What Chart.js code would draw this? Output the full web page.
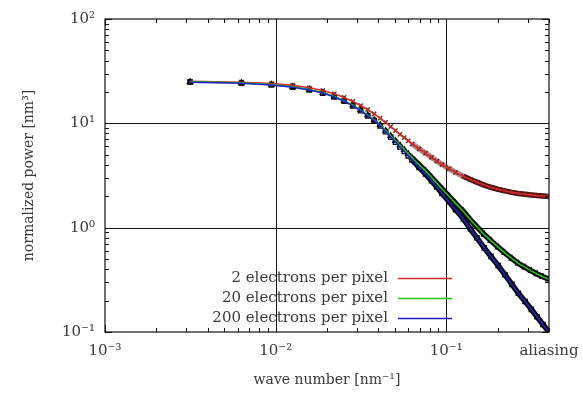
<!DOCTYPE html>
<html lang="en">
<head>
<meta charset="UTF-8">
<title>Normalized power spectrum</title>
<script src="https://cdn.jsdelivr.net/npm/chart.js"></script>
<style>
  body { margin: 0; background: #fff; }
</style>
</head>
<body>
<canvas id="powerChart" width="583" height="394"></canvas>
<script>
// wave numbers of the plotted samples [nm^-1]
const waveNumbers = [0.00315, 0.0063, 0.00945, 0.0126, 0.01575, 0.0189, 0.02205, 0.0252, 0.02835, 0.0315,
  0.03465, 0.0378, 0.04095, 0.0441, 0.04725, 0.0504, 0.05355, 0.0567, 0.05985, 0.063,
  0.0693, 0.0756, 0.0819, 0.0882, 0.0945, 0.10395, 0.1134, 0.126, 0.1386, 0.1512,
  0.16695, 0.1827, 0.2016, 0.2205, 0.24255, 0.2646, 0.2898, 0.315, 0.3402, 0.36855, 0.4];

// normalized power [nm^3]
const power2 = [25.3, 24.8, 24.0, 23.1, 21.9, 20.6, 19.2, 17.7, 16.2, 14.8,
  13.5, 12.3, 11.2, 10.2, 9.3, 8.5, 7.85, 7.3, 6.8, 6.36,
  5.68, 5.18, 4.72, 4.34, 4.03, 3.67, 3.39, 3.11, 2.9, 2.73,
  2.56, 2.44, 2.33, 2.25, 2.18, 2.13, 2.09, 2.06, 2.03, 2.01, 1.99];
const power20 = [25.0, 24.4, 23.5, 22.4, 21.1, 19.7, 18.1, 16.5, 14.9, 13.4,
  12.0, 10.8, 9.66, 8.52, 7.59, 6.81, 6.15, 5.59, 5.10, 4.68,
  4.00, 3.50, 3.04, 2.66, 2.35, 1.99, 1.71, 1.43, 1.19, 1.02,
  0.86, 0.75, 0.65, 0.574, 0.506, 0.455, 0.416, 0.385, 0.36, 0.338, 0.32];
const power200 = [24.8, 24.2, 23.3, 22.2, 20.9, 19.5, 17.9, 16.3, 14.7, 13.2,
  11.8, 10.6, 9.44, 8.30, 7.37, 6.59, 5.93, 5.37, 4.88, 4.46,
  3.78, 3.28, 2.82, 2.44, 2.13, 1.77, 1.49, 1.21, 0.97, 0.80,
  0.64, 0.53, 0.433, 0.354, 0.286, 0.235, 0.196, 0.165, 0.14, 0.118, 0.1];

const seriesLabels = ['2 electrons per pixel', '20 electrons per pixel', '200 electrons per pixel'];

const xTickValues = [0.001, 0.01, 0.1, 0.4];
const xTickLabels = ['10⁻³', '10⁻²', '10⁻¹', 'aliasing'];
const yTickValues = [0.1, 1, 10, 100];
const yTickLabels = ['10⁻¹', '10⁰', '10¹', '10²'];

const FONT = '"DejaVu Serif", "Liberation Serif", serif';
const TEXT = '#3a3a3a';
const lineColors = ['#d42a2a', '#1fc41f', '#2222c8'];
const bandColors = ['#4a1212', '#0a0a0a', '#0a0a0a'];
const markerStyles = ['crossRot', 'triangle', 'rect'];

const toPoints = arr => arr.map((v, i) => ({ x: waveNumbers[i], y: v }));
const allSeries = [power2, power20, power200];

// the dense markers merge into a band; the crosses of the red set look lighter
function bandColor(i, k) {
  if (k < 0.06) return 'rgba(0,0,0,0)';
  if (i === 0 && k < 0.12) return 'rgba(110,35,35,0.55)';
  return bandColors[i];
}

const datasets = [];
allSeries.forEach((vals, i) => {
  // colored curve on top
  datasets.push({
    label: seriesLabels[i],
    data: toPoints(vals),
    borderColor: lineColors[i],
    borderWidth: 1.6,
    pointRadius: 0,
    tension: 0,
    order: 3 - i
  });
  // black markers
  datasets.push({
    label: seriesLabels[i] + ' markers',
    data: toPoints(vals),
    borderColor: bandColors[i],
    borderWidth: 5.5,
    segment: {
      borderColor: ctx => bandColor(i, ctx.p0.parsed.x)
    },
    pointStyle: markerStyles[i],
    pointRadius: 3,
    pointBorderWidth: 1.4,
    pointBorderColor: i === 0 ? '#6a2020' : bandColors[i],
    pointBackgroundColor: 'rgba(0,0,0,0)',
    tension: 0,
    order: 6 - i
  });
});

// frame, decade grid lines and inward ticks like the gnuplot original
const framePlugin = {
  id: 'frame',
  beforeDatasetsDraw(chart) {
    const { ctx, chartArea: a, scales: { x, y } } = chart;
    ctx.save();
    ctx.strokeStyle = '#111';
    ctx.lineWidth = 1;
    ctx.beginPath();
    [0.01, 0.1].forEach(v => {
      const px = Math.round(x.getPixelForValue(v)) + 0.5;
      ctx.moveTo(px, a.top); ctx.lineTo(px, a.bottom);
    });
    [1, 10].forEach(v => {
      const py = Math.round(y.getPixelForValue(v)) + 0.5;
      ctx.moveTo(a.left, py); ctx.lineTo(a.right, py);
    });
    ctx.stroke();
    ctx.restore();
  },
  afterDatasetsDraw(chart) {
    const { ctx, chartArea: a, scales: { x, y } } = chart;
    ctx.save();
    ctx.strokeStyle = '#111';
    ctx.lineWidth = 1.2;
    ctx.strokeRect(a.left, a.top, a.right - a.left, a.bottom - a.top);
    ctx.lineWidth = 1;
    ctx.beginPath();
    for (let e = -3; e <= 2; e++) {
      for (let m = 1; m <= 9; m++) {
        const v = m * Math.pow(10, e);
        const len = m === 1 ? 7 : 4;
        if (v >= 0.001 && v <= 0.4) {
          const px = Math.round(x.getPixelForValue(v)) + 0.5;
          ctx.moveTo(px, a.bottom); ctx.lineTo(px, a.bottom - len);
          ctx.moveTo(px, a.top); ctx.lineTo(px, a.top + len);
        }
        if (v >= 0.1 && v <= 100) {
          const py = Math.round(y.getPixelForValue(v)) + 0.5;
          ctx.moveTo(a.left, py); ctx.lineTo(a.left + len, py);
          ctx.moveTo(a.right, py); ctx.lineTo(a.right - len, py);
        }
      }
    }
    ctx.stroke();

    // key inside the plot
    ctx.font = '15px ' + FONT;
    ctx.fillStyle = TEXT;
    ctx.textAlign = 'right';
    ctx.textBaseline = 'middle';
    seriesLabels.forEach((label, i) => {
      const ly = 278 + i * 20;
      ctx.fillText(label, 388, ly);
      ctx.strokeStyle = lineColors[i];
      ctx.lineWidth = 1.3;
      ctx.beginPath();
      ctx.moveTo(398, ly + 0.5); ctx.lineTo(452, ly + 0.5);
      ctx.stroke();
    });
    ctx.restore();
  }
};

new Chart(document.getElementById('powerChart'), {
  type: 'line',
  data: { datasets },
  options: {
    responsive: false,
    animation: false,
    layout: { padding: { top: 19, right: 34, left: 0, bottom: 0 } },
    plugins: { legend: { display: false }, tooltip: { enabled: false } },
    scales: {
      x: {
        type: 'logarithmic',
        min: 0.001,
        max: 0.4,
        afterBuildTicks: s => { s.ticks = xTickValues.map(v => ({ value: v })); },
        afterFit: s => { s.height = 62; s.paddingLeft = 0; s.paddingRight = 0; },
        grid: { display: false, drawTicks: false },
        border: { display: false },
        ticks: {
          autoSkip: false,
          maxRotation: 0,
          padding: 10,
          color: TEXT,
          font: { family: FONT, size: 15 },
          callback: v => xTickLabels[xTickValues.indexOf(v)]
        },
        title: {
          display: true,
          text: 'wave number [nm⁻¹]',
          color: TEXT,
          font: { family: FONT, size: 14 },
          padding: { top: 0, bottom: 5 }
        }
      },
      y: {
        type: 'logarithmic',
        min: 0.1,
        max: 100,
        afterBuildTicks: s => { s.ticks = yTickValues.map(v => ({ value: v })); },
        afterFit: s => { s.width = 105; s.paddingTop = 0; s.paddingBottom = 0; },
        grid: { display: false, drawTicks: false },
        border: { display: false },
        ticks: {
          autoSkip: false,
          padding: 10,
          color: TEXT,
          font: { family: FONT, size: 15 },
          callback: v => yTickLabels[yTickValues.indexOf(v)]
        },
        title: {
          display: true,
          text: 'normalized power [nm³]',
          color: TEXT,
          font: { family: FONT, size: 14 },
          padding: { top: 21, bottom: 0 }
        }
      }
    }
  },
  plugins: [framePlugin]
});
</script>
</body>
</html>
